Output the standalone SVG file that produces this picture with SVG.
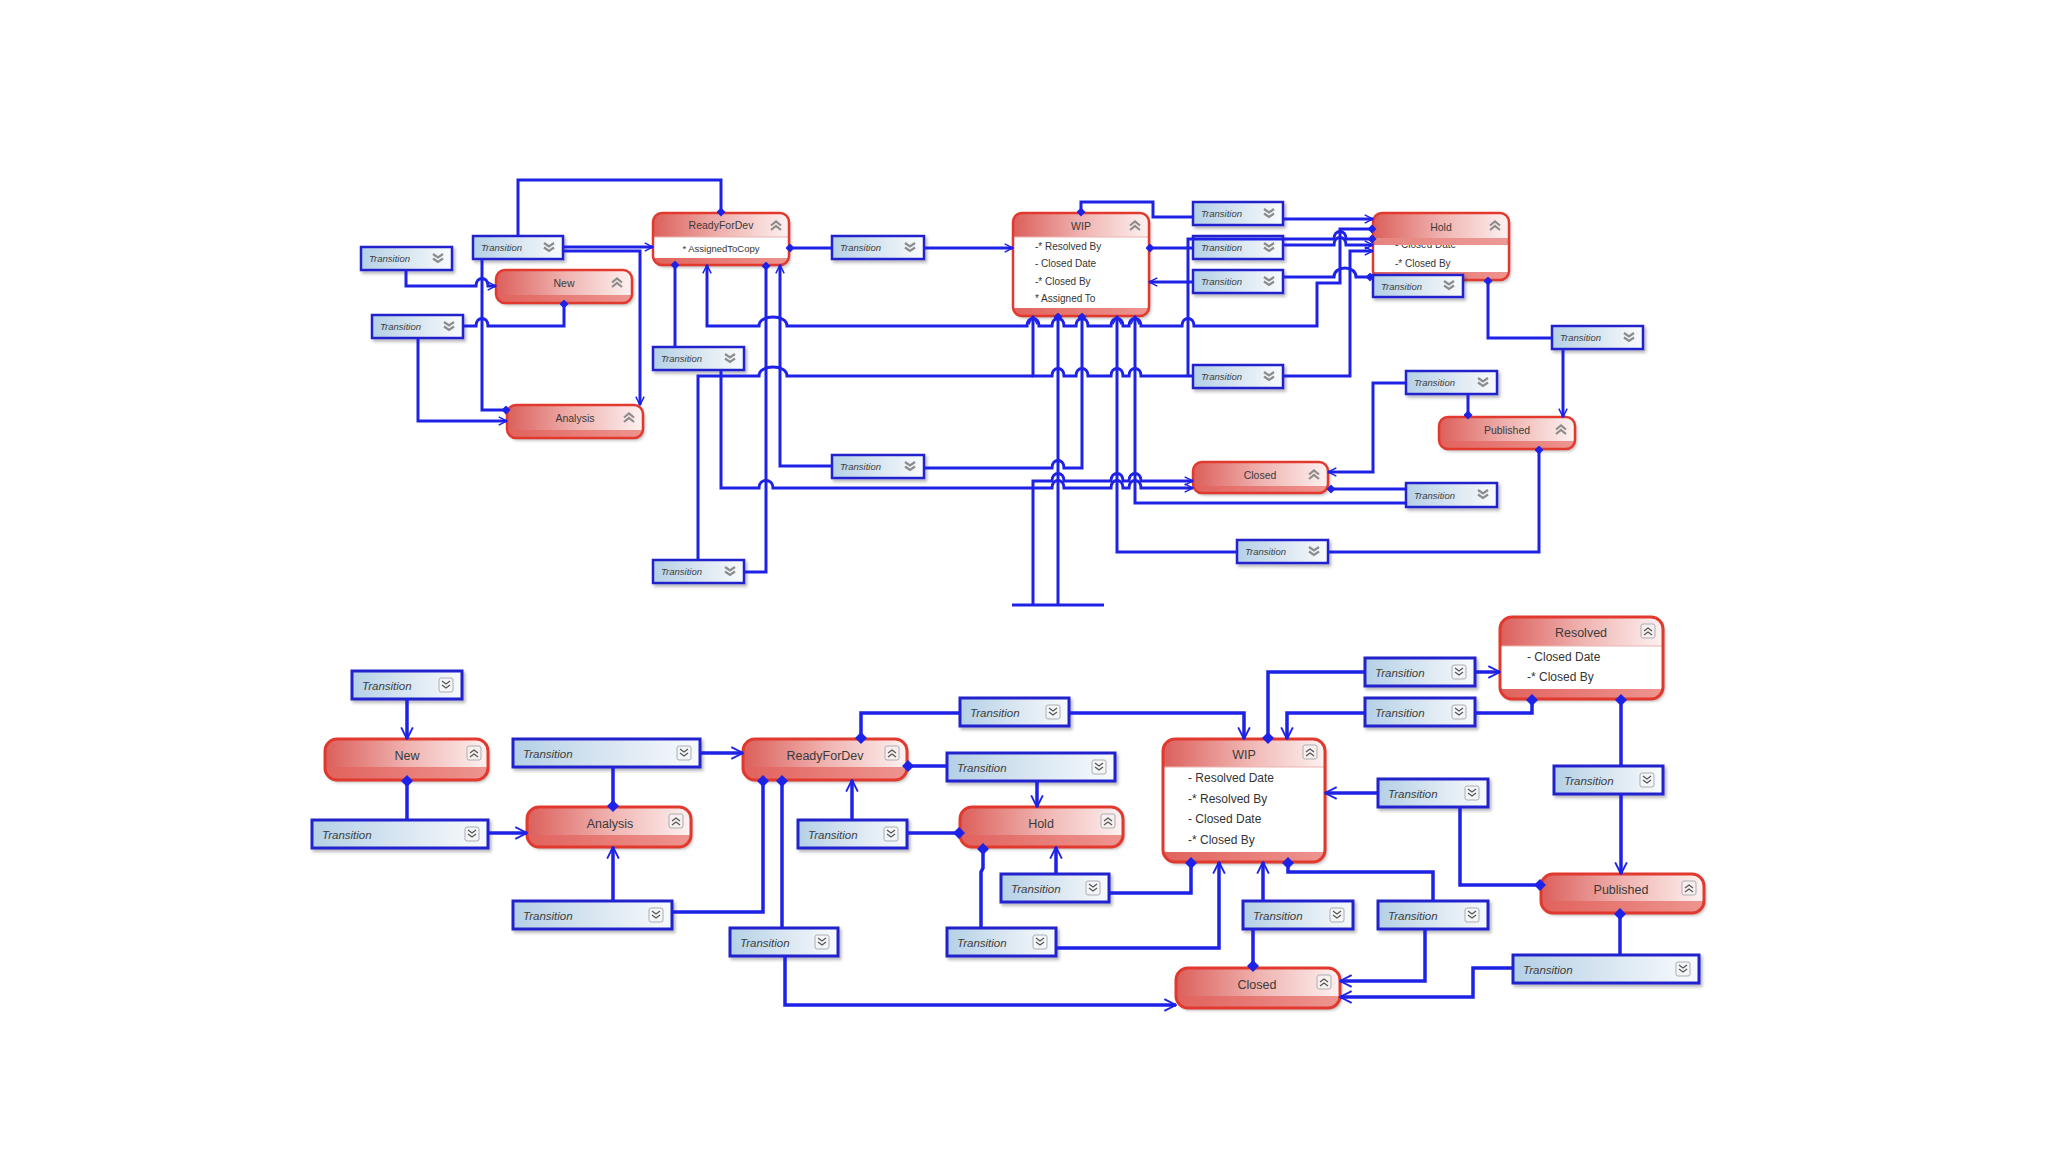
<svg xmlns="http://www.w3.org/2000/svg" xmlns:xlink="http://www.w3.org/1999/xlink" width="2048" height="1152" viewBox="0 0 2048 1152">
<style>
.ln{fill:none;stroke:#1e22e6;stroke-width:3;stroke-linejoin:miter}
.lb{stroke-width:3.5}
.tb{fill:url(#gt);stroke:#2424cc;stroke-width:2.5}
.tbb{stroke-width:3}
.tt{font-family:"Liberation Sans",Arial,sans-serif;font-style:italic;font-size:9.5px;fill:#3d3d3d}
.ttb{font-size:11.5px}
.nb{fill:url(#gb)}
.nh{fill:url(#gh)}
.nw{fill:#fff}
.ns{fill:none;stroke:#e2392f;stroke-width:2.5}
.nsb{stroke-width:3}
.sep{stroke:#eab4b1;stroke-width:1}
.nt{font-family:"Liberation Sans",Arial,sans-serif;font-size:10.5px;fill:#3a3a3a;text-anchor:middle}
.ntb{font-size:12.5px}
.it{font-family:"Liberation Sans",Arial,sans-serif;font-size:10px;fill:#333}
.itb{font-size:12px}
</style>
<defs>
<linearGradient id="gh" x1="0" y1="0" x2="1" y2="0"><stop offset="0" stop-color="#dc5f5b"/><stop offset="0.5" stop-color="#efb2af"/><stop offset="1" stop-color="#fdf2f1"/></linearGradient>
<linearGradient id="gb" x1="0" y1="0" x2="1" y2="0"><stop offset="0" stop-color="#e1625d"/><stop offset="1" stop-color="#ee9590"/></linearGradient>
<linearGradient id="gt" x1="0" y1="0" x2="1" y2="0"><stop offset="0" stop-color="#b4d0e6"/><stop offset="0.6" stop-color="#dfeaf3"/><stop offset="1" stop-color="#f8fbfd"/></linearGradient>
<filter id="sh" x="-10%" y="-20%" width="130%" height="170%"><feDropShadow dx="2" dy="2.5" stdDeviation="1.5" flood-color="#000" flood-opacity="0.28"/></filter>
<marker id="arrT" viewBox="0 0 12 12" refX="11" refY="6" markerWidth="10" markerHeight="10" markerUnits="userSpaceOnUse" orient="auto-start-reverse"><path d="M1,1 L11,6 L1,11" fill="none" stroke="#1e22e6" stroke-width="1.8"/></marker>
<marker id="arrB" viewBox="0 0 12 12" refX="11" refY="6" markerWidth="14" markerHeight="14" markerUnits="userSpaceOnUse" orient="auto-start-reverse"><path d="M1,1 L11,6 L1,11" fill="none" stroke="#1e22e6" stroke-width="1.6"/></marker>
<marker id="diaT" viewBox="0 0 10 10" refX="5" refY="5" markerWidth="9" markerHeight="9" markerUnits="userSpaceOnUse" orient="auto"><path d="M5,0L10,5L5,10L0,5Z" fill="#1e22e6"/></marker>
<marker id="diaB" viewBox="0 0 10 10" refX="5" refY="5" markerWidth="12" markerHeight="12" markerUnits="userSpaceOnUse" orient="auto"><path d="M5,0L10,5L5,10L0,5Z" fill="#1e22e6"/></marker>
<g id="dnT"><path d="M-5,-5 L0,-1.5 L5,-5 M-5,-0.5 L0,3 L5,-0.5" fill="none" stroke="#8c8c8c" stroke-width="2.2"/></g>
<g id="upT"><path d="M-5,-0.5 L0,-4.5 L5,-0.5 M-5,4 L0,0 L5,4" fill="none" stroke="#8c8c8c" stroke-width="2.2"/></g>
<g id="dnB"><rect x="-7" y="-7" width="14" height="14" rx="2" fill="#f3f5f7" stroke="#a9aeb5" stroke-width="1"/><path d="M-4,-4 L0,-1 L4,-4 M-4,0 L0,3 L4,0" fill="none" stroke="#555" stroke-width="1.2"/></g>
<g id="upB"><rect x="-7" y="-7" width="14" height="14" rx="2" fill="#f7eeee" stroke="#a9aeb5" stroke-width="1"/><path d="M-4,0 L0,-3 L4,0 M-4,4 L0,1 L4,4" fill="none" stroke="#555" stroke-width="1.2"/></g>
</defs>
<rect x="0" y="0" width="2048" height="1152" fill="#ffffff"/>

<!-- ===== TOP DIAGRAM NODES ===== -->
<g id="top-new"><rect class="nb" x="496" y="270" width="136" height="33" rx="9" filter="url(#sh)"/><path class="nh" d="M496,295V279Q496,270 505,270H623Q632,270 632,279V295Z"/><rect class="ns" x="496" y="270" width="136" height="33" rx="9"/><text class="nt" x="564" y="287">New</text><use href="#upT" x="617" y="283"/></g>
<g id="top-analysis"><rect class="nb" x="507" y="405" width="136" height="33" rx="9" filter="url(#sh)"/><path class="nh" d="M507,430V414Q507,405 516,405H634Q643,405 643,414V430Z"/><rect class="ns" x="507" y="405" width="136" height="33" rx="9"/><text class="nt" x="575" y="422">Analysis</text><use href="#upT" x="629" y="418"/></g>
<g id="top-readyfordev"><rect class="nb" x="653" y="213" width="136" height="52" rx="9" filter="url(#sh)"/><path class="nh" d="M653,237V222Q653,213 662,213H780Q789,213 789,222V237Z"/><rect class="nw" x="654" y="237" width="134" height="21"/><line class="sep" x1="654" y1="237" x2="788" y2="237"/><rect class="ns" x="653" y="213" width="136" height="52" rx="9"/><text class="nt" x="721" y="229">ReadyForDev</text><text class="it" x="721" y="252" text-anchor="middle" style="font-size:9.5px">* AssignedToCopy</text><use href="#upT" x="776" y="226"/></g>
<g id="top-wip"><rect class="nb" x="1013" y="213" width="136" height="103" rx="9" filter="url(#sh)"/><path class="nh" d="M1013,237V222Q1013,213 1022,213H1140Q1149,213 1149,222V237Z"/><rect class="nw" x="1014" y="237" width="134" height="71"/><line class="sep" x1="1014" y1="237" x2="1148" y2="237"/><rect class="ns" x="1013" y="213" width="136" height="103" rx="9"/><text class="nt" x="1081" y="230">WIP</text><text class="it" x="1035" y="250">-* Resolved By</text><text class="it" x="1035" y="267">- Closed Date</text><text class="it" x="1035" y="285">-* Closed By</text><text class="it" x="1035" y="302">* Assigned To</text><use href="#upT" x="1135" y="226"/></g>
<g id="top-hold"><rect class="nb" x="1373" y="213" width="136" height="67" rx="9" filter="url(#sh)"/><rect class="nw" x="1374" y="240" width="134" height="32"/><text class="it" x="1395" y="248">- Closed Date</text><text class="it" x="1395" y="267">-* Closed By</text><path class="nh" d="M1373,245V222Q1373,213 1382,213H1500Q1509,213 1509,222V245Z"/><rect x="1374" y="238" width="134" height="7" fill="#e78a85" opacity="0.85"/><rect class="ns" x="1373" y="213" width="136" height="67" rx="9"/><text class="nt" x="1441" y="231">Hold</text><use href="#upT" x="1495" y="226"/></g>
<g id="top-published"><rect class="nb" x="1439" y="417" width="136" height="32" rx="9" filter="url(#sh)"/><path class="nh" d="M1439,441V426Q1439,417 1448,417H1566Q1575,417 1575,426V441Z"/><rect class="ns" x="1439" y="417" width="136" height="32" rx="9"/><text class="nt" x="1507" y="434">Published</text><use href="#upT" x="1561" y="430"/></g>
<g id="top-closed"><rect class="nb" x="1193" y="462" width="135" height="31" rx="9" filter="url(#sh)"/><path class="nh" d="M1193,486V471Q1193,462 1202,462H1319Q1328,462 1328,471V486Z"/><rect class="ns" x="1193" y="462" width="135" height="31" rx="9"/><text class="nt" x="1260" y="479">Closed</text><use href="#upT" x="1314" y="475"/></g>

<!-- top transitions -->
<g id="top-t-a"><rect class="tb" x="361" y="247" width="91" height="23" filter="url(#sh)"/><text class="tt" x="369" y="262">Transition</text><use href="#dnT" x="438" y="259"/></g>
<g id="top-t-b"><rect class="tb" x="372" y="315" width="91" height="23" filter="url(#sh)"/><text class="tt" x="380" y="330">Transition</text><use href="#dnT" x="449" y="327"/></g>
<g id="top-t-c"><rect class="tb" x="473" y="236" width="90" height="23" filter="url(#sh)"/><text class="tt" x="481" y="251">Transition</text><use href="#dnT" x="549" y="248"/></g>
<g id="top-t-d"><rect class="tb" x="653" y="347" width="91" height="23" filter="url(#sh)"/><text class="tt" x="661" y="362">Transition</text><use href="#dnT" x="730" y="359"/></g>
<g id="top-t-e"><rect class="tb" x="653" y="560" width="91" height="23" filter="url(#sh)"/><text class="tt" x="661" y="575">Transition</text><use href="#dnT" x="730" y="572"/></g>
<g id="top-t-f"><rect class="tb" x="832" y="236" width="92" height="23" filter="url(#sh)"/><text class="tt" x="840" y="251">Transition</text><use href="#dnT" x="910" y="248"/></g>
<g id="top-t-g"><rect class="tb" x="832" y="455" width="92" height="23" filter="url(#sh)"/><text class="tt" x="840" y="470">Transition</text><use href="#dnT" x="910" y="467"/></g>
<g id="top-t-h1"><rect class="tb" x="1193" y="202" width="90" height="23" filter="url(#sh)"/><text class="tt" x="1201" y="217">Transition</text><use href="#dnT" x="1269" y="214"/></g>
<g id="top-t-h2"><rect class="tb" x="1193" y="236" width="90" height="23" filter="url(#sh)"/><text class="tt" x="1201" y="251">Transition</text><use href="#dnT" x="1269" y="248"/></g>
<g id="top-t-h3"><rect class="tb" x="1193" y="270" width="90" height="23" filter="url(#sh)"/><text class="tt" x="1201" y="285">Transition</text><use href="#dnT" x="1269" y="282"/></g>
<g id="top-t-h4"><rect class="tb" x="1193" y="365" width="90" height="23" filter="url(#sh)"/><text class="tt" x="1201" y="380">Transition</text><use href="#dnT" x="1269" y="377"/></g>
<g id="top-t-hold"><rect class="tb" x="1373" y="275" width="90" height="22" filter="url(#sh)"/><text class="tt" x="1381" y="290">Transition</text><use href="#dnT" x="1449" y="286"/></g>
<g id="top-t-r"><rect class="tb" x="1552" y="326" width="91" height="23" filter="url(#sh)"/><text class="tt" x="1560" y="341">Transition</text><use href="#dnT" x="1629" y="338"/></g>
<g id="top-t-p"><rect class="tb" x="1406" y="371" width="91" height="23" filter="url(#sh)"/><text class="tt" x="1414" y="386">Transition</text><use href="#dnT" x="1483" y="383"/></g>
<g id="top-t-c2"><rect class="tb" x="1406" y="483" width="91" height="24" filter="url(#sh)"/><text class="tt" x="1414" y="499">Transition</text><use href="#dnT" x="1483" y="495"/></g>
<g id="top-t-bot"><rect class="tb" x="1237" y="540" width="91" height="23" filter="url(#sh)"/><text class="tt" x="1245" y="555">Transition</text><use href="#dnT" x="1314" y="552"/></g>

<!-- ===== BOTTOM DIAGRAM NODES ===== -->
<g id="bot-new"><rect class="nb" x="325" y="739" width="163" height="41" rx="12" filter="url(#sh)"/><path class="nh" d="M325,767V751Q325,739 337,739H476Q488,739 488,751V767Z"/><rect class="ns nsb" x="325" y="739" width="163" height="41" rx="12"/><text class="nt ntb" x="407" y="760">New</text><use href="#upB" x="474" y="753"/></g>
<g id="bot-analysis"><rect class="nb" x="527" y="807" width="164" height="40" rx="12" filter="url(#sh)"/><path class="nh" d="M527,835V819Q527,807 539,807H679Q691,807 691,819V835Z"/><rect class="ns nsb" x="527" y="807" width="164" height="40" rx="12"/><text class="nt ntb" x="610" y="828">Analysis</text><use href="#upB" x="676" y="821"/></g>
<g id="bot-readyfordev"><rect class="nb" x="743" y="739" width="164" height="41" rx="12" filter="url(#sh)"/><path class="nh" d="M743,767V751Q743,739 755,739H895Q907,739 907,751V767Z"/><rect class="ns nsb" x="743" y="739" width="164" height="41" rx="12"/><text class="nt ntb" x="825" y="760">ReadyForDev</text><use href="#upB" x="892" y="753"/></g>
<g id="bot-hold"><rect class="nb" x="960" y="807" width="163" height="40" rx="12" filter="url(#sh)"/><path class="nh" d="M960,835V819Q960,807 972,807H1111Q1123,807 1123,819V835Z"/><rect class="ns nsb" x="960" y="807" width="163" height="40" rx="12"/><text class="nt ntb" x="1041" y="828">Hold</text><use href="#upB" x="1108" y="821"/></g>
<g id="bot-wip"><rect class="nb" x="1163" y="739" width="162" height="123" rx="12" filter="url(#sh)"/><path class="nh" d="M1163,767V751Q1163,739 1175,739H1313Q1325,739 1325,751V767Z"/><rect class="nw" x="1164" y="767" width="160" height="85"/><line class="sep" x1="1164" y1="767" x2="1324" y2="767"/><rect class="ns nsb" x="1163" y="739" width="162" height="123" rx="12"/><text class="nt ntb" x="1244" y="759">WIP</text><text class="it itb" x="1188" y="782">- Resolved Date</text><text class="it itb" x="1188" y="803">-* Resolved By</text><text class="it itb" x="1188" y="823">- Closed Date</text><text class="it itb" x="1188" y="844">-* Closed By</text><use href="#upB" x="1310" y="752"/></g>
<g id="bot-resolved"><rect class="nb" x="1500" y="617" width="163" height="82" rx="12" filter="url(#sh)"/><path class="nh" d="M1500,646V629Q1500,617 1512,617H1651Q1663,617 1663,629V646Z"/><rect class="nw" x="1501" y="646" width="161" height="43"/><line class="sep" x1="1501" y1="646" x2="1662" y2="646"/><rect class="ns nsb" x="1500" y="617" width="163" height="82" rx="12"/><text class="nt ntb" x="1581" y="637">Resolved</text><text class="it itb" x="1527" y="661">- Closed Date</text><text class="it itb" x="1527" y="681">-* Closed By</text><use href="#upB" x="1648" y="631"/></g>
<g id="bot-published"><rect class="nb" x="1541" y="874" width="163" height="39" rx="12" filter="url(#sh)"/><path class="nh" d="M1541,901V886Q1541,874 1553,874H1692Q1704,874 1704,886V901Z"/><rect class="ns nsb" x="1541" y="874" width="163" height="39" rx="12"/><text class="nt ntb" x="1621" y="894">Published</text><use href="#upB" x="1689" y="888"/></g>
<g id="bot-closed"><rect class="nb" x="1176" y="968" width="164" height="40" rx="12" filter="url(#sh)"/><path class="nh" d="M1176,996V980Q1176,968 1188,968H1328Q1340,968 1340,980V996Z"/><rect class="ns nsb" x="1176" y="968" width="164" height="40" rx="12"/><text class="nt ntb" x="1257" y="989">Closed</text><use href="#upB" x="1324" y="982"/></g>

<!-- bottom transitions -->
<g id="bot-t1"><rect class="tb tbb" x="352" y="671" width="110" height="28" filter="url(#sh)"/><text class="tt ttb" x="362" y="690">Transition</text><use href="#dnB" x="446" y="685"/></g>
<g id="bot-t2"><rect class="tb tbb" x="312" y="820" width="176" height="28" filter="url(#sh)"/><text class="tt ttb" x="322" y="839">Transition</text><use href="#dnB" x="472" y="834"/></g>
<g id="bot-t3"><rect class="tb tbb" x="513" y="739" width="187" height="28" filter="url(#sh)"/><text class="tt ttb" x="523" y="758">Transition</text><use href="#dnB" x="684" y="753"/></g>
<g id="bot-t4"><rect class="tb tbb" x="513" y="901" width="159" height="28" filter="url(#sh)"/><text class="tt ttb" x="523" y="920">Transition</text><use href="#dnB" x="656" y="915"/></g>
<g id="bot-t5"><rect class="tb tbb" x="730" y="928" width="108" height="28" filter="url(#sh)"/><text class="tt ttb" x="740" y="947">Transition</text><use href="#dnB" x="822" y="942"/></g>
<g id="bot-t6"><rect class="tb tbb" x="960" y="698" width="109" height="28" filter="url(#sh)"/><text class="tt ttb" x="970" y="717">Transition</text><use href="#dnB" x="1053" y="712"/></g>
<g id="bot-t7"><rect class="tb tbb" x="947" y="753" width="168" height="28" filter="url(#sh)"/><text class="tt ttb" x="957" y="772">Transition</text><use href="#dnB" x="1099" y="767"/></g>
<g id="bot-t8"><rect class="tb tbb" x="798" y="820" width="109" height="28" filter="url(#sh)"/><text class="tt ttb" x="808" y="839">Transition</text><use href="#dnB" x="891" y="834"/></g>
<g id="bot-t9"><rect class="tb tbb" x="1001" y="874" width="108" height="28" filter="url(#sh)"/><text class="tt ttb" x="1011" y="893">Transition</text><use href="#dnB" x="1093" y="888"/></g>
<g id="bot-t10"><rect class="tb tbb" x="947" y="928" width="109" height="28" filter="url(#sh)"/><text class="tt ttb" x="957" y="947">Transition</text><use href="#dnB" x="1040" y="942"/></g>
<g id="bot-t11"><rect class="tb tbb" x="1243" y="901" width="110" height="28" filter="url(#sh)"/><text class="tt ttb" x="1253" y="920">Transition</text><use href="#dnB" x="1337" y="915"/></g>
<g id="bot-t12"><rect class="tb tbb" x="1365" y="658" width="110" height="28" filter="url(#sh)"/><text class="tt ttb" x="1375" y="677">Transition</text><use href="#dnB" x="1459" y="672"/></g>
<g id="bot-t13"><rect class="tb tbb" x="1365" y="698" width="110" height="28" filter="url(#sh)"/><text class="tt ttb" x="1375" y="717">Transition</text><use href="#dnB" x="1459" y="712"/></g>
<g id="bot-t14"><rect class="tb tbb" x="1378" y="779" width="110" height="28" filter="url(#sh)"/><text class="tt ttb" x="1388" y="798">Transition</text><use href="#dnB" x="1472" y="793"/></g>
<g id="bot-t15"><rect class="tb tbb" x="1554" y="766" width="109" height="28" filter="url(#sh)"/><text class="tt ttb" x="1564" y="785">Transition</text><use href="#dnB" x="1647" y="780"/></g>
<g id="bot-t16"><rect class="tb tbb" x="1378" y="901" width="110" height="28" filter="url(#sh)"/><text class="tt ttb" x="1388" y="920">Transition</text><use href="#dnB" x="1472" y="915"/></g>
<g id="bot-t17"><rect class="tb tbb" x="1513" y="955" width="186" height="28" filter="url(#sh)"/><text class="tt ttb" x="1523" y="974">Transition</text><use href="#dnB" x="1683" y="969"/></g>

<!-- ===== CONNECTORS ===== -->
<g id="connectors">
<g id="top-connectors" class="ln">
<path d="M518,236V180H721V212" marker-end="url(#diaT)"/>
<path d="M563,247H653" marker-end="url(#arrT)"/>
<path d="M563,251H640V405" marker-end="url(#arrT)"/>
<path d="M482,259V410H506" marker-end="url(#diaT)"/>
<path d="M406,271V286H476C476,276 488,276 488,286H496" marker-end="url(#arrT)"/>
<path d="M463,326H476C476,316 488,316 488,326H564V304" marker-end="url(#diaT)"/>
<path d="M418,338V421H507" marker-end="url(#arrT)"/>
<path d="M675,265V347" marker-start="url(#diaT)"/>
<path d="M790,248H832" marker-start="url(#diaT)"/>
<path d="M924,248H1013" marker-end="url(#arrT)"/>
<path d="M707,265V326H759C759,314 787,314 787,326H1027C1027,316 1039,316 1039,326H1052C1052,316 1064,316 1064,326H1076C1076,316 1088,316 1088,326H1111C1111,316 1123,316 1123,326H1129C1129,316 1141,316 1141,326H1182C1182,316 1194,316 1194,326H1317V283H1340V229H1372" marker-start="url(#arrT)" marker-end="url(#diaT)"/>
<path d="M1033,316V376H1052C1052,366 1064,366 1064,376H1076C1076,366 1088,366 1088,376H1111C1111,366 1123,366 1123,376H1129C1129,366 1141,366 1141,376H1193" marker-start="url(#arrT)"/>
<path d="M698,560V376H759C759,364 787,364 787,376H1033"/>
<path d="M1188,376V239H1334C1334,229 1346,229 1346,239H1372" marker-end="url(#diaT)"/>
<path d="M1283,376H1350V251H1373" marker-end="url(#arrT)"/>
<path d="M1283,219H1373" marker-end="url(#arrT)"/>
<path d="M1283,245H1334C1334,235 1346,235 1346,245H1373" marker-end="url(#arrT)"/>
<path d="M1283,277H1334C1334,265 1356,265 1356,277H1370" marker-end="url(#diaT)"/>
<path d="M1150,248H1193" marker-start="url(#diaT)"/>
<path d="M1193,282H1149" marker-end="url(#arrT)"/>
<path d="M1081,212V202H1153V217H1193" marker-start="url(#diaT)"/>
<path d="M1488,281V338H1552" marker-start="url(#diaT)"/>
<path d="M1563,349V417" marker-end="url(#arrT)"/>
<path d="M1468,394V415" marker-end="url(#diaT)"/>
<path d="M1406,383H1373V472H1328" marker-end="url(#arrT)"/>
<path d="M1331,489H1406" marker-start="url(#diaT)"/>
<path d="M1135,316V503H1406" marker-start="url(#arrT)"/>
<path d="M1117,316V552H1237" marker-start="url(#arrT)"/>
<path d="M1328,552H1539V450" marker-end="url(#diaT)"/>
<path d="M1082,317V468H1064C1064,458 1052,458 1052,468H924" marker-start="url(#diaT)"/>
<path d="M832,466H780V265" marker-end="url(#arrT)"/>
<path d="M766,266V572H744" marker-start="url(#diaT)"/>
<path d="M721,371V488H759C759,478 773,478 773,488H1052C1052,478 1064,478 1064,488H1111C1111,478 1123,478 1123,488H1129C1129,478 1141,478 1141,488H1193" marker-end="url(#arrT)"/>
<path d="M1033,605V481H1052C1052,471 1064,471 1064,481H1111C1111,471 1123,471 1123,481H1129C1129,471 1141,471 1141,481H1193" marker-end="url(#arrT)"/>
<path d="M1058,317V605" marker-start="url(#diaT)"/>
<path d="M1012,605H1104"/>
</g>
<g id="bottom-connectors" class="ln lb">
<path d="M407,699V739" marker-end="url(#arrB)"/>
<path d="M407,781V820" marker-start="url(#diaB)"/>
<path d="M488,833H527" marker-end="url(#arrB)"/>
<path d="M613,767V806" marker-end="url(#diaB)"/>
<path d="M700,753H743" marker-end="url(#arrB)"/>
<path d="M613,901V847" marker-end="url(#arrB)"/>
<path d="M672,912H763V781" marker-end="url(#diaB)"/>
<path d="M782,781V928" marker-start="url(#diaB)"/>
<path d="M785,956V1005H1176" marker-end="url(#arrB)"/>
<path d="M960,713H861V738" marker-end="url(#diaB)"/>
<path d="M1069,713H1244V739" marker-end="url(#arrB)"/>
<path d="M908,766H947" marker-start="url(#diaB)"/>
<path d="M1037,781V807" marker-end="url(#arrB)"/>
<path d="M852,820V780" marker-end="url(#arrB)"/>
<path d="M907,833H959" marker-end="url(#diaB)"/>
<path d="M1056,874V847" marker-end="url(#arrB)"/>
<path d="M1109,893H1191V863" marker-end="url(#diaB)"/>
<path d="M981,928V872L983,868V849" marker-end="url(#diaB)"/>
<path d="M1056,948H1219V862" marker-end="url(#arrB)"/>
<path d="M1263,901V862" marker-end="url(#arrB)"/>
<path d="M1253,929V966" marker-end="url(#diaB)"/>
<path d="M1268,738V672H1365" marker-start="url(#diaB)"/>
<path d="M1475,672H1500" marker-end="url(#arrB)"/>
<path d="M1532,700V713H1475" marker-start="url(#diaB)"/>
<path d="M1365,713H1287V739" marker-end="url(#arrB)"/>
<path d="M1378,793H1325" marker-end="url(#arrB)"/>
<path d="M1460,808V885H1540" marker-end="url(#diaB)"/>
<path d="M1621,700V766" marker-start="url(#diaB)"/>
<path d="M1621,794V874" marker-end="url(#arrB)"/>
<path d="M1288,863V872H1433V901" marker-start="url(#diaB)"/>
<path d="M1425,929V981H1340" marker-end="url(#arrB)"/>
<path d="M1620,914V955" marker-start="url(#diaB)"/>
<path d="M1513,968H1473V997H1340" marker-end="url(#arrB)"/>
</g>
</g>
</svg>
